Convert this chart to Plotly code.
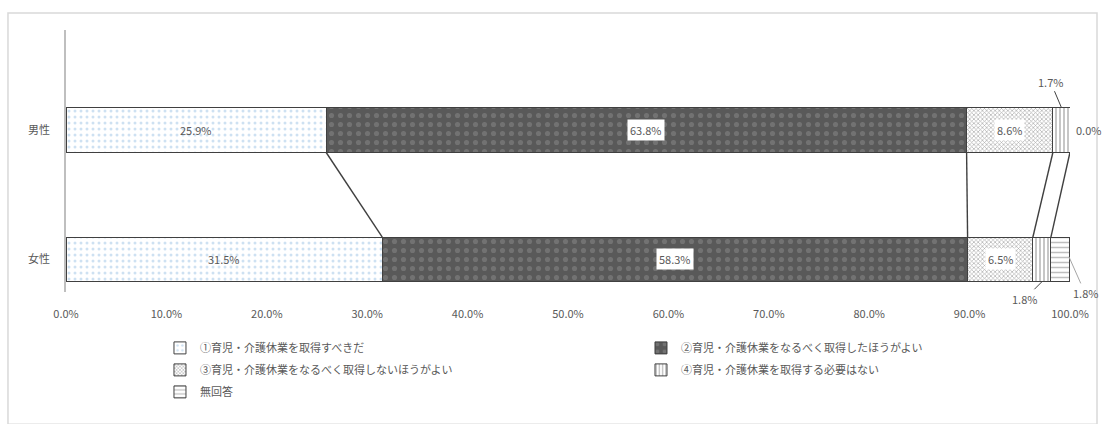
import plotly.graph_objects as go

# Survey: attitudes toward taking childcare / nursing-care leave, by gender
categories = ["男性", "女性"]
series_names = [
    "①育児・介護休業を取得すべきだ",
    "②育児・介護休業をなるべく取得したほうがよい",
    "③育児・介護休業をなるべく取得しないほうがよい",
    "④育児・介護休業を取得する必要はない",
    "無回答",
]
male_values = [25.9, 63.8, 8.6, 1.7, 0.0]
female_values = [31.5, 58.3, 6.5, 1.8, 1.8]
tick_values = [0, 10, 20, 30, 40, 50, 60, 70, 80, 90, 100]
tick_labels = ["0.0%", "10.0%", "20.0%", "30.0%", "40.0%", "50.0%",
               "60.0%", "70.0%", "80.0%", "90.0%", "100.0%"]

FONT = "Noto Sans CJK JP"
TEXT = "#595959"
EDGE = "#404040"
BAR_W = 0.344

styles = [
    dict(bg="#ffffff", fg="#9dc3e6", shape=".", size=6, solidity=0.2),
    dict(bg="#595959", fg="#8c8c8c", shape=".", size=9, solidity=0.25),
    dict(bg="#ffffff", fg="#595959", shape="x", size=3, solidity=0.4),
    dict(bg="#ffffff", fg="#404040", shape="|", size=4, solidity=0.3),
    dict(bg="#ffffff", fg="#7f7f7f", shape="-", size=5, solidity=0.3),
]
legend_of = ["legend", "legend2", "legend", "legend2", "legend"]

fig = go.Figure()
for i, name in enumerate(series_names):
    st = styles[i]
    fig.add_trace(go.Bar(
        name=name,
        y=categories,
        x=[male_values[i], female_values[i]],
        orientation="h",
        width=BAR_W,
        legend=legend_of[i],
        legendgroup=str(i),
        marker=dict(
            color=st["bg"],
            line=dict(color=EDGE, width=1),
            pattern=dict(shape=st["shape"], fgcolor=st["fg"], bgcolor=st["bg"],
                         size=st["size"], solidity=st["solidity"],
                         fillmode="overlay"),
        ),
        hoverinfo="skip",
    ))

# cumulative starts for label placement and series lines
def cumulative(vals):
    out, s = [], 0.0
    for v in vals:
        out.append(s)
        s += v
    return out

male_start = cumulative(male_values)
female_start = cumulative(female_values)

annotations = []
boxed = [False, True, True]
for vals, starts, cat in [(male_values, male_start, "男性"),
                          (female_values, female_start, "女性")]:
    for i in range(3):
        annotations.append(dict(
            x=starts[i] + vals[i] / 2, y=cat, text=f"{vals[i]:.1f}%",
            showarrow=False, font=dict(family=FONT, size=11, color=TEXT),
            bgcolor="#ffffff" if boxed[i] else None, borderpad=2,
        ))

# small segments labelled outside the bar with leader lines
annotations += [
    dict(x=male_start[3] + male_values[3] / 2, y=1 + BAR_W / 2,
         text=f"{male_values[3]:.1f}%", ax=-11, ay=-26, showarrow=True,
         arrowhead=0, arrowwidth=1, arrowcolor=EDGE,
         font=dict(family=FONT, size=11, color=TEXT)),
    dict(x=100, y="男性", text=f"{male_values[4]:.1f}%", showarrow=False,
         xanchor="left", xshift=4, font=dict(family=FONT, size=11, color=TEXT)),
    dict(x=female_start[3] + female_values[3] / 2, y=-BAR_W / 2,
         text=f"{female_values[3]:.1f}%", ax=-17, ay=17, showarrow=True,
         arrowhead=0, arrowwidth=1, arrowcolor=EDGE,
         font=dict(family=FONT, size=11, color=TEXT)),
    dict(x=female_start[4] + female_values[4], y=0.02,
         text=f"{female_values[4]:.1f}%", ax=16, ay=36, showarrow=True,
         arrowhead=0, arrowwidth=1, arrowcolor="#a6a6a6",
         font=dict(family=FONT, size=11, color=TEXT)),
]

shapes = []
# series lines joining segment boundaries of the two bars
for i in range(1, 5):
    shapes.append(dict(type="line", xref="x", yref="y",
                       x0=male_start[i], y0=1 - BAR_W / 2,
                       x1=female_start[i], y1=BAR_W / 2,
                       line=dict(color=EDGE, width=1.4)))
# chart frame
shapes.append(dict(type="rect", xref="paper", yref="paper",
                   x0=-0.0578, x1=1.0269, y0=-0.505, y1=1.065,
                   line=dict(color="#d9d9d9", width=1.5), layer="below"))

fig.update_layout(
    width=1102, height=424,
    margin=dict(l=66, r=32, t=30, b=132),
    barmode="stack",
    plot_bgcolor="#ffffff", paper_bgcolor="#ffffff",
    font=dict(family=FONT, size=11, color=TEXT),
    annotations=annotations,
    shapes=shapes,
    legend=dict(x=0.0936, y=-0.158, xanchor="left", yanchor="top",
                orientation="v", traceorder="grouped", tracegroupgap=3,
                font=dict(family=FONT, size=11, color=TEXT),
                bgcolor="rgba(0,0,0,0)"),
    legend2=dict(x=0.5727, y=-0.158, xanchor="left", yanchor="top",
                 orientation="v", traceorder="grouped", tracegroupgap=3,
                 font=dict(family=FONT, size=11, color=TEXT),
                 bgcolor="rgba(0,0,0,0)"),
)
fig.update_xaxes(range=[0, 100], tickvals=tick_values, ticktext=tick_labels,
                 showgrid=False, zeroline=False, showline=False,
                 ticklabelstandoff=14, fixedrange=True,
                 tickfont=dict(family=FONT, size=11, color=TEXT))
fig.update_yaxes(type="category", categoryorder="array",
                 categoryarray=["女性", "男性"], range=[-0.251, 1.772],
                 showline=True, linecolor="#bfbfbf", linewidth=1.5,
                 showgrid=False, ticks="", ticklabelstandoff=12,
                 tickfont=dict(family=FONT, size=11, color=TEXT))

fig.write_html("out.html")
